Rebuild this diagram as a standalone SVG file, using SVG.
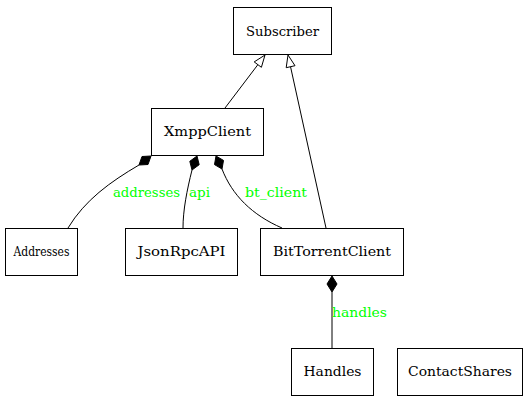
<svg xmlns="http://www.w3.org/2000/svg" width="528" height="403" viewBox="0 0 528 403">
<style>
.n rect{fill:#fff;stroke:#000;stroke-width:1}
.n text{font-family:"DejaVu Serif",serif;font-size:13px;text-anchor:middle;fill:#000}
.e path{fill:none;stroke:#000;stroke-width:1}
.e polygon.h{fill:#fff;stroke:#000}
.e polygon.d{fill:#000;stroke:#000}
.l{font-family:"DejaVu Serif",serif;font-size:13px;fill:#00ff00}
</style>
<rect width="528" height="403" fill="#fff"/>
<g id="edges" class="e">
<path d="M225,108 L258,64.5"/>
<polygon class="h" points="265,55 261.4,67.3 254.2,61.9"/>
<path d="M326,228 L290.6,67"/>
<polygon class="h" points="288,55 295,65.7 286.2,67.7"/>
<path d="M139,165 C110,182 85,200 68,228"/>
<polygon class="d" points="151,156 148,164.5 139,165 142,156.5"/>
<path d="M192,170 C187,190 183,210 183,228"/>
<polygon class="d" points="197,156 199.2,164.7 192,170 189.8,161.3"/>
<path d="M222,169 C232,195 252,215 282,228"/>
<polygon class="d" points="216,156 223.5,160.4 222,169 214.5,164.6"/>
<path d="M332,292 L332,348"/>
<polygon class="d" points="332,276 337,284 332,292 327,284"/>
<text class="l" x="113" y="197" textLength="67" lengthAdjust="spacingAndGlyphs">addresses</text>
<text class="l" x="189" y="197" textLength="21" lengthAdjust="spacingAndGlyphs">api</text>
<text class="l" x="245" y="197" textLength="62" lengthAdjust="spacingAndGlyphs">bt_client</text>
<text class="l" x="332" y="317" textLength="55" lengthAdjust="spacingAndGlyphs">handles</text>
</g>
<g id="Subscriber" class="n"><rect x="233.5" y="7.5" width="98" height="47"/><text x="282.5" y="36" textLength="73" lengthAdjust="spacingAndGlyphs">Subscriber</text></g>
<g id="XmppClient" class="n"><rect x="151.5" y="108.5" width="112" height="47"/><text x="207.5" y="136" textLength="87" lengthAdjust="spacingAndGlyphs">XmppClient</text></g>
<g id="Addresses" class="n"><rect x="5.5" y="228.5" width="72" height="47"/><text x="41.5" y="256" textLength="56" lengthAdjust="spacingAndGlyphs">Addresses</text></g>
<g id="JsonRpcAPI" class="n"><rect x="125.5" y="228.5" width="112" height="47"/><text x="181.5" y="256" textLength="88" lengthAdjust="spacingAndGlyphs">JsonRpcAPI</text></g>
<g id="BitTorrentClient" class="n"><rect x="260.5" y="228.5" width="143" height="47"/><text x="332" y="256" textLength="118" lengthAdjust="spacingAndGlyphs">BitTorrentClient</text></g>
<g id="Handles" class="n"><rect x="291.5" y="348.5" width="82" height="47"/><text x="332.5" y="376" textLength="58" lengthAdjust="spacingAndGlyphs">Handles</text></g>
<g id="ContactShares" class="n"><rect x="397.5" y="348.5" width="125" height="47"/><text x="460" y="376" textLength="104" lengthAdjust="spacingAndGlyphs">ContactShares</text></g>
</svg>
